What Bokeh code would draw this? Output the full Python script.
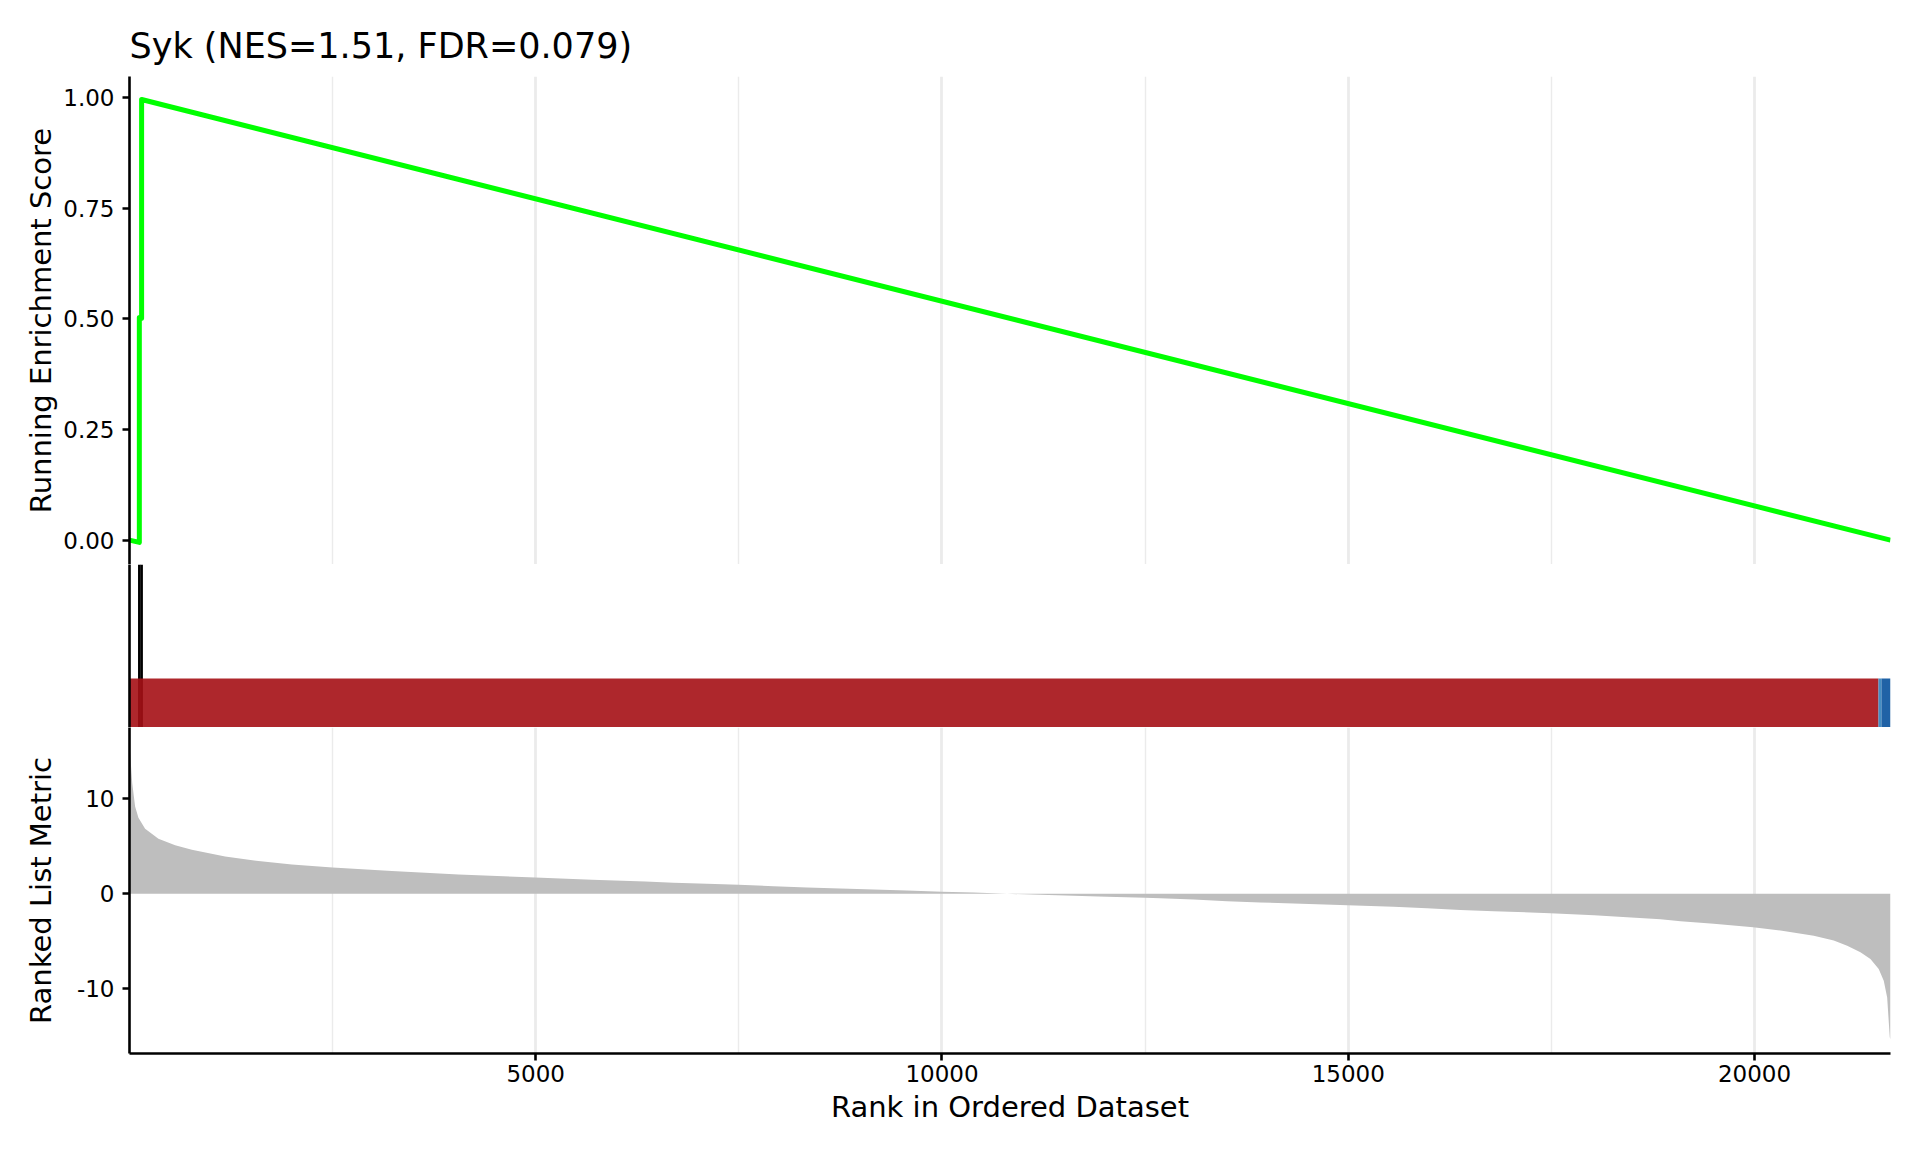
from bokeh.plotting import figure
from bokeh.layouts import column
from bokeh.models import Range1d, FixedTicker, NumeralTickFormatter
from bokeh.embed import file_html
from bokeh.resources import INLINE

# ---------------- data ----------------
N_GENES = 21673
title_text = "Syk (NES=1.51, FDR=0.079)"
x_label = "Rank in Ordered Dataset"
es_label = "Running Enrichment Score"
metric_label = "Ranked List Metric"

x_ticks = [5000, 10000, 15000, 20000]
x_minor = [2500, 7500, 12500, 17500]
es_ticks = [0.0, 0.25, 0.5, 0.75, 1.0]
metric_ticks = [-10, 0, 10]

# running enrichment score (vertices of the step/line curve)
es_rank = [1, 122, 122, 150, 150, 21673]
es_value = [0.0, -0.005, 0.503, 0.501, 0.995, 0.0]

# gene set hits
hit_ranks = [122, 150]

# colour band under the hits
band_start = [1, 21525, 21562]
band_end = [21525, 21562, 21673]
band_colors = ["#A50F15", "#3182BD", "#08519C"]

# ranked list metric
metric_rank = [1, 15, 35, 70, 111, 193, 357, 563, 768, 1178, 1588, 1999, 2499,
               3230, 4050, 4994, 5692, 6348, 6696, 7107, 7497, 7927, 8338, 8748,
               9158, 9569, 10000, 10389, 10718, 10800, 11210, 11620, 12031,
               12502, 12687, 13097, 13508, 13918, 14328, 14993, 15559, 15970,
               16380, 16790, 17488, 18025, 18432, 18843, 19089, 19498, 19983,
               20319, 20729, 20975, 21140, 21303, 21426, 21528, 21590, 21632,
               21664, 21673]
metric_value = [15.9, 14.0, 11.6, 9.2, 8.0, 6.86, 5.8, 5.1, 4.64, 3.94, 3.45,
                3.09, 2.78, 2.39, 2.04, 1.72, 1.48, 1.30, 1.16, 1.05, 0.95, 0.81,
                0.67, 0.56, 0.46, 0.35, 0.21, 0.14, 0.03, 0.0, -0.10, -0.20,
                -0.32, -0.42, -0.46, -0.60, -0.77, -0.91, -1.02, -1.20, -1.37,
                -1.51, -1.69, -1.83, -2.04, -2.25, -2.46, -2.67, -2.88, -3.16,
                -3.52, -3.87, -4.40, -4.92, -5.45, -6.15, -6.86, -7.91, -9.14,
                -10.9, -15.1, -15.3]

# ---------------- style ----------------
FONT = "DejaVu Sans"
GRID = "#EBEBEB"
LEFT = 129
RIGHT = 22
FRAME_W = 1761
W = LEFT + FRAME_W + RIGHT

x_range = Range1d(1, N_GENES)


def style_common(p):
    p.outline_line_color = None
    p.background_fill_color = "white"
    p.border_fill_color = "white"
    p.ygrid.visible = False
    p.xgrid.ticker = FixedTicker(ticks=x_ticks, minor_ticks=x_minor)
    p.xgrid.grid_line_color = GRID
    p.xgrid.grid_line_width = 2.8
    p.xgrid.minor_grid_line_color = GRID
    p.xgrid.minor_grid_line_width = 1.4


def style_axis(ax):
    ax.axis_line_color = "black"
    ax.axis_line_width = 2.6
    ax.major_tick_line_color = "black"
    ax.major_tick_line_width = 2.6
    ax.major_tick_out = 7
    ax.major_tick_in = 0
    ax.minor_tick_line_color = None
    ax.major_label_text_font = FONT
    ax.major_label_text_font_size = "23px"
    ax.major_label_text_color = "black"
    ax.major_label_standoff = 8
    ax.axis_label_text_font = FONT
    ax.axis_label_text_font_size = "29px"
    ax.axis_label_text_font_style = "normal"
    ax.axis_label_text_color = "black"


# ---- top panel: running enrichment score ----
p1 = figure(width=W, height=564, x_range=x_range, y_range=Range1d(-0.055, 1.047),
            x_axis_location=None, toolbar_location=None, output_backend="svg",
            min_border_left=LEFT, min_border_right=RIGHT, min_border_top=76,
            min_border_bottom=0)
style_common(p1)
p1.title.text = title_text
p1.title.text_font = FONT
p1.title.text_font_size = "35px"
p1.title.text_font_style = "normal"
p1.title.text_color = "black"
p1.title.align = "left"
p1.title.offset = 0
p1.title.standoff = 21
p1.line(es_rank, es_value, line_color="#00FF00", line_width=5, line_join="round")
p1.yaxis.ticker = FixedTicker(ticks=es_ticks)
p1.yaxis.formatter = NumeralTickFormatter(format="0.00")
p1.yaxis.axis_label = es_label
style_axis(p1.yaxis[0])
p1.yaxis.axis_label_standoff = 2

# ---- middle panel: hits and colour band ----
p2 = figure(width=W, height=163, x_range=x_range, y_range=Range1d(0, 1),
            x_axis_location=None, toolbar_location=None, output_backend="svg",
            min_border_left=LEFT, min_border_right=RIGHT, min_border_top=0,
            min_border_bottom=0)
p2.outline_line_color = None
p2.xgrid.visible = False
p2.ygrid.visible = False
p2.segment(x0=hit_ranks, y0=[0] * len(hit_ranks), x1=hit_ranks, y1=[1] * len(hit_ranks),
           line_color="black", line_width=2.6)
p2.quad(left=band_start, right=band_end, bottom=[0] * len(band_start),
        top=[0.3] * len(band_start), fill_color=band_colors, fill_alpha=0.9,
        line_color=None)
p2.yaxis.ticker = FixedTicker(ticks=[])
style_axis(p2.yaxis[0])

# ---- bottom panel: ranked list metric ----
p3 = figure(width=W, height=417, x_range=x_range, y_range=Range1d(-16.8, 17.5),
            toolbar_location=None, output_backend="svg",
            min_border_left=LEFT, min_border_right=RIGHT, min_border_top=0,
            min_border_bottom=91)
style_common(p3)
p3.varea(x=metric_rank, y1=[0] * len(metric_rank), y2=metric_value,
         fill_color="#BEBEBE")
p3.yaxis.ticker = FixedTicker(ticks=metric_ticks)
p3.yaxis.major_label_overrides = {-10: "-10", 0: "0", 10: "10"}
p3.yaxis.axis_label = metric_label
style_axis(p3.yaxis[0])
p3.yaxis.axis_label_standoff = 16
p3.xaxis.ticker = FixedTicker(ticks=x_ticks)
p3.xaxis.axis_label = x_label
style_axis(p3.xaxis[0])
p3.xaxis.major_label_standoff = 4
p3.xaxis.axis_label_standoff = 5

layout = column(p1, p2, p3, spacing=0)

open("out.html", "w").write(file_html(layout, INLINE))
